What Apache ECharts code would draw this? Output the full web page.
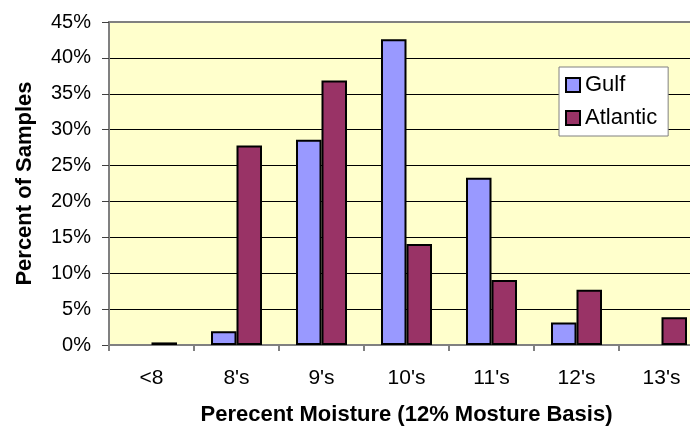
<!DOCTYPE html>
<html>
<head>
<meta charset="utf-8">
<script src="https://cdn.jsdelivr.net/npm/echarts@6/dist/echarts.min.js"></script>
<style>
  html, body { margin: 0; padding: 0; background: #ffffff; }
  #chart { width: 690px; height: 427px; }
</style>
</head>
<body>
<div id="chart"></div>
<script>
// Moisture classes (percent moisture, 12% moisture basis)
const categories = ["<8", "8's", "9's", "10's", "11's", "12's", "13's"];
// Percent of samples in each class
const gulf = [0, 1.9, 28.6, 42.6, 23.3, 3.15, 0];
const atlantic = [0.36, 27.8, 36.85, 14.07, 9.05, 7.7, 3.85];
const yTicks = { min: 0, max: 45, step: 5 };

const FONT = "'Liberation Sans', Arial, sans-serif";

function toBars(values) {
  // empty classes get no outline so nothing is drawn on the baseline
  return values.map(v => v === 0 ? { value: v, itemStyle: { borderWidth: 0 } } : v);
}

const chart = echarts.init(document.getElementById('chart'), null, { renderer: 'canvas' });
chart.setOption({
  animation: false,
  backgroundColor: '#ffffff',
  textStyle: { fontFamily: FONT, color: '#000' },
  grid: {
    left: 109, top: 22, right: -14, bottom: 82,
    containLabel: false,
    outerBoundsMode: 'none',
    show: true, backgroundColor: '#FFFFCC', borderColor: '#808080', borderWidth: 2
  },
  legend: {
    orient: 'vertical',
    left: 559, top: 67,
    backgroundColor: '#ffffff',
    borderColor: '#808080', borderWidth: 1,
    padding: [7, 11, 7, 6],
    itemGap: 11,
    itemWidth: 14, itemHeight: 14,
    icon: 'rect',
    textStyle: { fontFamily: FONT, fontSize: 22, color: '#000' },
    data: ['Gulf', 'Atlantic']
  },
  xAxis: {
    type: 'category',
    data: categories,
    name: 'Perecent Moisture (12% Mosture Basis)',
    nameLocation: 'middle',
    nameGap: 59,
    nameTextStyle: { fontFamily: FONT, fontSize: 22, fontWeight: 'bold', color: '#000' },
    axisLine: { lineStyle: { color: '#808080', width: 2 } },
    axisTick: { show: true, alignWithLabel: false, length: 6, lineStyle: { color: '#808080', width: 2 } },
    axisLabel: { fontFamily: FONT, fontSize: 21, color: '#000', margin: 23 },
    splitLine: { show: false }
  },
  yAxis: {
    type: 'value',
    min: yTicks.min, max: yTicks.max, interval: yTicks.step,
    name: 'Percent of Samples',
    nameLocation: 'middle',
    nameGap: 73,
    nameTextStyle: { fontFamily: FONT, fontSize: 22, fontWeight: 'bold', color: '#000' },
    axisLine: { show: true, lineStyle: { color: '#808080', width: 2 } },
    axisTick: { show: true, length: 7, lineStyle: { color: '#404040', width: 1 } },
    axisLabel: { fontFamily: FONT, fontSize: 20, color: '#000', margin: 18, formatter: '{value}%' },
    splitLine: { show: true, showMaxLine: false, lineStyle: { color: '#000', width: 1 } }
  },
  series: [
    {
      name: 'Gulf', type: 'bar', data: toBars(gulf),
      barGap: '0%', barCategoryGap: '40%',
      itemStyle: { color: '#9999FF', borderColor: '#000', borderWidth: 2 }
    },
    {
      name: 'Atlantic', type: 'bar', data: toBars(atlantic),
      barGap: '0%', barCategoryGap: '40%',
      itemStyle: { color: '#993366', borderColor: '#000', borderWidth: 2 }
    }
  ]
});
</script>
</body>
</html>
